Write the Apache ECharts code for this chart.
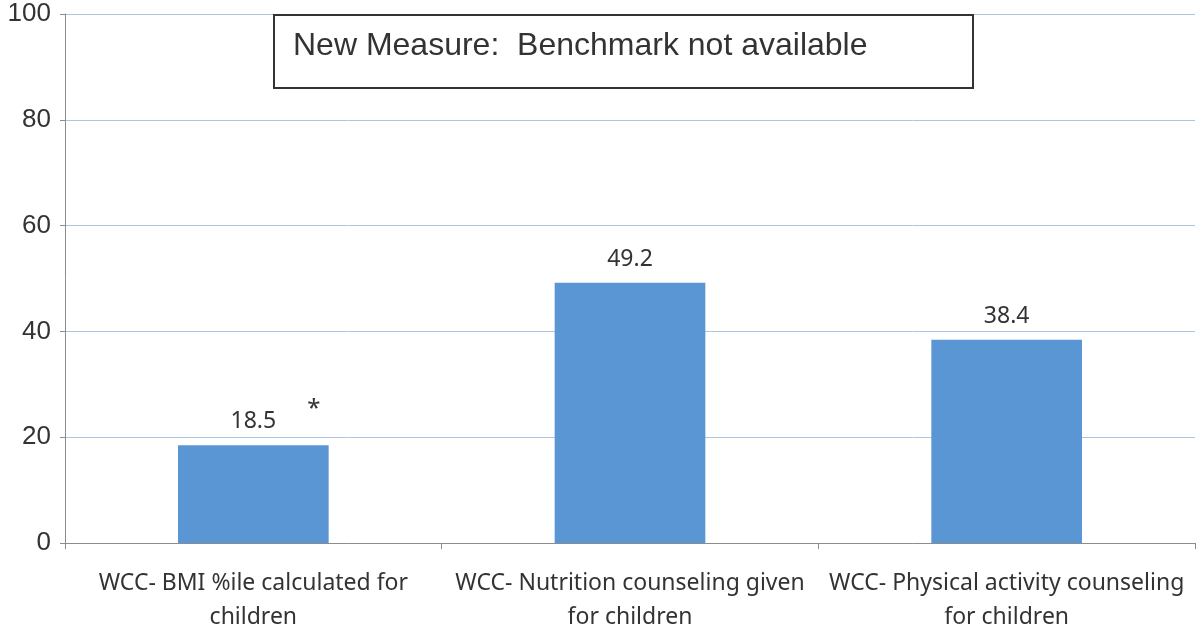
<!DOCTYPE html>
<html>
<head>
<meta charset="utf-8">
<script src="https://cdn.jsdelivr.net/npm/echarts@6/dist/echarts.min.js"></script>
<style>
  html, body { margin: 0; padding: 0; background: #fff; }
  #chart { width: 1196px; height: 630px; }
</style>
</head>
<body>
<div id="chart"></div>
<script>
  // data
  var categories = [
    'WCC- BMI %ile calculated for\nchildren',
    'WCC- Nutrition counseling given\nfor children',
    'WCC- Physical activity counseling\nfor children'
  ];
  var rates = [18.5, 49.2, 38.4];
  var yTicks = [0, 20, 40, 60, 80, 100];
  var noteText = 'New Measure:  Benchmark not available';

  var chart = echarts.init(document.getElementById('chart'));
  chart.setOption({
    animation: false,
    grid: { left: 65, right: 1, top: 14, bottom: 87, outerBoundsMode: 'none' },
    xAxis: {
      type: 'category',
      data: categories,
      axisLine: { lineStyle: { color: '#8c8c8c', width: 1 } },
      axisTick: { show: true, length: 6, lineStyle: { color: '#8c8c8c' } },
      axisLabel: {
        interval: 0,
        color: '#333', fontSize: 23, fontFamily: 'Noto Sans', lineHeight: 34, margin: 23
      }
    },
    yAxis: {
      type: 'value',
      min: yTicks[0],
      max: yTicks[yTicks.length - 1],
      interval: 20,
      axisLine: { show: true, lineStyle: { color: '#8c8c8c', width: 1 } },
      axisTick: { show: true, length: 5, lineStyle: { color: '#8c8c8c' } },
      axisLabel: { color: '#333', fontSize: 26, fontFamily: 'Liberation Sans', margin: 14 },
      splitLine: { lineStyle: { color: '#adc6e0', width: 1 } }
    },
    series: [{
      type: 'bar',
      data: rates,
      barWidth: '40%',
      itemStyle: { color: '#5a96d4' },
      label: {
        show: true, position: 'top', distance: 12,
        color: '#333', fontSize: 23, fontFamily: 'Noto Sans'
      }
    }],
    graphic: [{
      type: 'rect',
      left: 273, top: 14,
      shape: { width: 699, height: 73 },
      style: { fill: '#fff', stroke: '#333', lineWidth: 2 },
      z: 10
    }, {
      type: 'text',
      x: 293, y: 46,
      style: {
        text: noteText, fill: '#333', fontSize: 32, fontFamily: 'Liberation Sans',
        align: 'left', verticalAlign: 'middle'
      },
      z: 11
    }]
  });

  // asterisk beside the first bar's label
  var p = chart.convertToPixel({ gridIndex: 0 }, [0, rates[0]]);
  chart.setOption({
    graphic: [{}, {}, {
      type: 'text',
      x: p[0] + 54, y: p[1] - 48,
      style: { text: '*', fill: '#333', fontSize: 24, fontFamily: 'Noto Sans' },
      z: 11
    }]
  });
</script>
</body>
</html>
